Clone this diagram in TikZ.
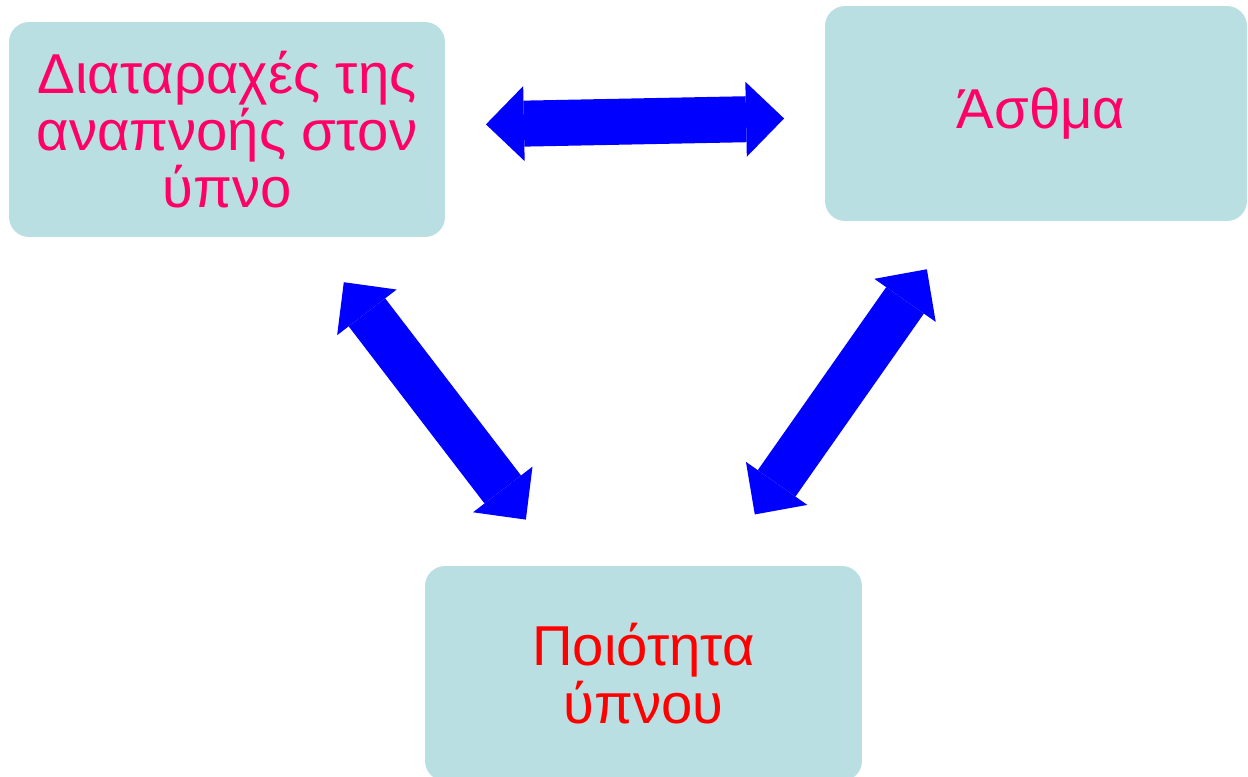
\documentclass[tikz,border=0pt]{standalone}
\usepackage{fontspec}
\setmainfont{Liberation Sans}
\usetikzlibrary{arrows.meta}
\definecolor{boxfill}{HTML}{B9DFE2}
\definecolor{pinktext}{HTML}{FF0066}
\definecolor{redtext}{HTML}{FF0000}
\definecolor{arrowblue}{HTML}{0000FF}

\begin{document}
\begin{tikzpicture}[x=0.02cm, y=-0.02cm,
  box/.style={fill=boxfill, rounded corners=0.4cm, minimum height=4.3cm,
    align=center, inner sep=0pt, outer sep=0pt,
    font=\fontsize{32}{32.6}\selectfont},
  dblarrow/.style={arrowblue, line width=0.92cm,
    {Triangle[length=0.76cm,width=1.5cm,line width=0pt]}-{Triangle[length=0.76cm,width=1.5cm,line width=0pt]}}]

\useasboundingbox (0,0) rectangle (1248,777);
\clip (0,0) rectangle (1248,777);

% the three boxes
\node[box, minimum width=8.72cm, text=pinktext] (dys) at (227,129.5) {Διαταραχές της\\αναπνοής στον\\ύπνο};
\node[box, minimum width=8.44cm, text=pinktext] (asthma) at (1036,113.5) {\hspace*{0.2cm}Άσθμα};
\node[box, minimum width=8.74cm, text=redtext] (quality) at (643.5,673.5) {Ποιότητα\\ύπνου};

% double arrows
\draw[dblarrow, shorten <=0.82cm, shorten >=0.82cm] (dys) -- (asthma);
\draw[dblarrow, shorten <=1.14cm, shorten >=1.17cm] (dys) -- (quality);
\draw[dblarrow, shorten <=1.18cm, shorten >=1.26cm] (asthma) -- (quality);

\end{tikzpicture}
\end{document}
